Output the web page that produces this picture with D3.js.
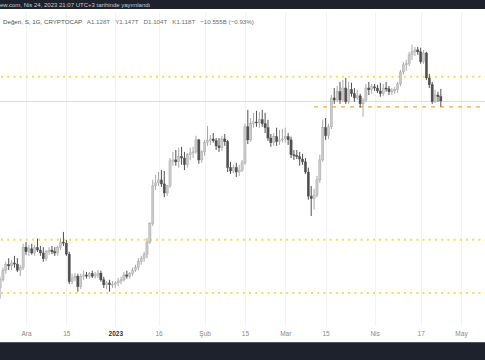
<!DOCTYPE html>
<html>
<head>
<meta charset="utf-8">
<script src="https://cdn.jsdelivr.net/npm/d3@7"></script>
<style>
  body { margin: 0; background: #fff; }
  svg { display: block; font-family: "Liberation Sans", Arial, sans-serif; }
</style>
</head>
<body>
<svg id="chart"></svg>
<script>
// daily candles, 22 Nov 2022 .. 24 Apr 2023, values in trillion USD
let firstDay = new Date(Date.UTC(2022, 10, 22));
let lastDay = new Date(Date.UTC(2023, 3, 25));

let opens = [
  0.751, 0.764, 0.780, 0.789, 0.787, 0.792, 0.790, 0.780, 0.784,
  0.819, 0.811, 0.816, 0.809, 0.818, 0.814, 0.809, 0.799, 0.811, 0.814, 0.811, 0.809, 0.818, 0.828, 0.826,
  0.807, 0.761, 0.767, 0.770, 0.753, 0.770, 0.772, 0.770, 0.774, 0.770, 0.772, 0.775, 0.764, 0.756, 0.759, 0.756,
  0.757, 0.759, 0.762, 0.764, 0.772, 0.770, 0.774, 0.780, 0.784, 0.794, 0.800, 0.806, 0.828, 0.861, 0.933,
  0.939, 0.945, 0.937, 0.919, 0.933, 0.984, 0.986, 0.982, 0.993, 0.990, 0.976, 0.997, 1.001, 1.003, 1.029, 0.986,
  1.003, 1.023, 1.027, 1.031, 1.027, 1.016, 1.012, 1.031, 1.025, 0.970, 0.963, 0.970, 0.961, 0.965, 0.980,
  1.058, 1.029, 1.065, 1.069, 1.067, 1.074, 1.065, 1.056, 1.033, 1.023, 1.036, 1.025, 1.029,
  1.031, 1.036, 1.029, 0.997, 0.995, 0.993, 0.988, 0.982, 0.961, 0.913, 0.908, 0.915, 0.945, 0.986, 1.056, 1.038,
  1.058, 1.125, 1.120, 1.140, 1.120, 1.149, 1.116, 1.145, 1.135, 1.125, 1.130, 1.111, 1.120, 1.149, 1.145,
  1.152, 1.149, 1.142, 1.135, 1.149, 1.147, 1.140, 1.142, 1.145, 1.159, 1.189, 1.207, 1.210, 1.233, 1.241, 1.246,
  1.241, 1.215, 1.238, 1.174, 1.157, 1.116, 1.132, 1.128
];
let highs = [
  0.769, 0.784, 0.794, 0.800, 0.797, 0.804, 0.800, 0.789, 0.825,
  0.828, 0.823, 0.825, 0.823, 0.834, 0.821, 0.819, 0.814, 0.819, 0.821, 0.819, 0.821, 0.835, 0.846, 0.832,
  0.811, 0.774, 0.775, 0.774, 0.774, 0.779, 0.777, 0.777, 0.779, 0.777, 0.780, 0.779, 0.769, 0.762, 0.764, 0.762,
  0.762, 0.767, 0.769, 0.777, 0.779, 0.777, 0.784, 0.789, 0.800, 0.804, 0.811, 0.835, 0.864, 0.945, 0.955,
  0.961, 0.965, 0.963, 0.935, 0.990, 1.003, 1.007, 1.012, 1.014, 1.003, 1.001, 1.012, 1.014, 1.038, 1.031, 1.007,
  1.029, 1.060, 1.040, 1.044, 1.033, 1.033, 1.038, 1.042, 1.029, 0.982, 0.976, 0.980, 0.976, 0.986, 1.065,
  1.097, 1.078, 1.090, 1.095, 1.092, 1.097, 1.090, 1.074, 1.042, 1.044, 1.056, 1.051, 1.053,
  1.056, 1.044, 1.036, 1.007, 1.007, 1.003, 0.999, 0.990, 0.970, 0.933, 0.927, 0.953, 0.997, 1.074, 1.078, 1.065,
  1.132, 1.149, 1.154, 1.164, 1.169, 1.174, 1.164, 1.162, 1.149, 1.145, 1.135, 1.125, 1.159, 1.164, 1.159,
  1.159, 1.157, 1.162, 1.159, 1.164, 1.154, 1.149, 1.152, 1.164, 1.194, 1.215, 1.220, 1.241, 1.260, 1.254, 1.254,
  1.252, 1.246, 1.241, 1.184, 1.164, 1.145, 1.140, 1.147
];
let lows = [
  0.734, 0.761, 0.774, 0.780, 0.780, 0.784, 0.777, 0.770, 0.780,
  0.806, 0.804, 0.806, 0.804, 0.811, 0.804, 0.794, 0.795, 0.806, 0.807, 0.804, 0.804, 0.814, 0.821, 0.804,
  0.757, 0.757, 0.762, 0.745, 0.749, 0.764, 0.766, 0.766, 0.767, 0.766, 0.767, 0.761, 0.751, 0.749, 0.745, 0.751,
  0.751, 0.754, 0.757, 0.761, 0.766, 0.766, 0.770, 0.777, 0.780, 0.789, 0.794, 0.800, 0.825, 0.857, 0.925,
  0.933, 0.931, 0.911, 0.913, 0.929, 0.974, 0.974, 0.970, 0.976, 0.965, 0.970, 0.986, 0.990, 0.999, 0.978, 0.980,
  0.995, 1.016, 1.018, 1.023, 1.007, 1.003, 1.005, 1.016, 0.961, 0.957, 0.959, 0.951, 0.953, 0.961, 0.976,
  1.020, 1.025, 1.056, 1.058, 1.056, 1.058, 1.044, 1.027, 1.014, 1.016, 1.016, 1.018, 1.023,
  1.023, 1.018, 0.990, 0.986, 0.988, 0.974, 0.976, 0.957, 0.906, 0.875, 0.887, 0.911, 0.939, 0.982, 1.029, 1.031,
  1.053, 1.111, 1.116, 1.111, 1.116, 1.111, 1.111, 1.128, 1.116, 1.120, 1.102, 1.081, 1.116, 1.132, 1.135,
  1.142, 1.137, 1.128, 1.130, 1.140, 1.132, 1.132, 1.135, 1.137, 1.154, 1.182, 1.192, 1.204, 1.220, 1.230, 1.233,
  1.210, 1.210, 1.169, 1.149, 1.111, 1.113, 1.116, 1.104
];
let closes = [
  0.764, 0.780, 0.789, 0.787, 0.792, 0.790, 0.780, 0.784, 0.819,
  0.811, 0.816, 0.809, 0.818, 0.814, 0.809, 0.799, 0.811, 0.814, 0.811, 0.809, 0.818, 0.828, 0.826, 0.807,
  0.761, 0.767, 0.770, 0.753, 0.770, 0.772, 0.770, 0.774, 0.770, 0.772, 0.775, 0.764, 0.756, 0.759, 0.756, 0.757,
  0.759, 0.762, 0.764, 0.772, 0.770, 0.774, 0.780, 0.784, 0.794, 0.800, 0.806, 0.828, 0.861, 0.933, 0.939,
  0.945, 0.937, 0.919, 0.933, 0.984, 0.986, 0.982, 0.993, 0.990, 0.976, 0.997, 1.001, 1.003, 1.029, 0.986, 1.003,
  1.023, 1.027, 1.031, 1.027, 1.016, 1.012, 1.031, 1.025, 0.970, 0.963, 0.970, 0.961, 0.965, 0.980, 1.058,
  1.029, 1.065, 1.069, 1.067, 1.074, 1.065, 1.056, 1.033, 1.023, 1.036, 1.025, 1.029, 1.031,
  1.036, 1.029, 0.997, 0.995, 0.993, 0.988, 0.982, 0.961, 0.913, 0.908, 0.915, 0.945, 0.986, 1.056, 1.038, 1.058,
  1.125, 1.120, 1.140, 1.120, 1.149, 1.116, 1.145, 1.135, 1.125, 1.130, 1.111, 1.120, 1.149, 1.145, 1.152,
  1.149, 1.142, 1.135, 1.149, 1.147, 1.140, 1.142, 1.145, 1.159, 1.189, 1.207, 1.210, 1.233, 1.241, 1.246, 1.241,
  1.215, 1.238, 1.174, 1.157, 1.116, 1.132, 1.128, 1.118
];

// horizontal levels drawn on the chart
let dottedLevels = [1.177, 0.832, 0.743];
let dashedLevel = 1.104;
let dashedFrom = new Date(Date.UTC(2023, 2, 11));
let lastClose = 1.118;

let tickDates = ["2022-12-01", "2022-12-15", "2023-01-01", "2023-01-16", "2023-02-01", "2023-02-15",
  "2023-03-01", "2023-03-15", "2023-04-01", "2023-04-17", "2023-05-01"];
let tickLabels = ["Ara", "15", "2023", "16", "Şub", "15", "Mar", "15", "Nis", "17", "May"];

let headerText = "ew.com, Nis 24, 2023 21:07 UTC+3 tarihinde yayımlandı";
let legendName = "Değeri, S, 1G, CRYPTOCAP";
let legendValues = ["A1.128T", "Y1.147T", "D1.104T", "K1.118T", "−10.555B (−0.93%)"];

let width = 485;
let height = 360;

let days = d3.utcDay.range(firstDay, lastDay);
let candles = days.map(function(d, i) {
  return { date: d, open: opens[i], high: highs[i], low: lows[i], close: closes[i] };
});

let svg = d3.select("#chart")
  .attr("width", width)
  .attr("height", height);

let x = d3.scaleUtc()
  .domain([new Date(Date.UTC(2022, 11, 1)), new Date(Date.UTC(2023, 4, 1))])
  .range([26, 461]);
let y = d3.scaleLog()
  .domain([0.694, 1.300])
  .range([325, 30]);

let parse = d3.utcParse("%Y-%m-%d");
let ticks = tickDates.map(parse);

// faint vertical grid
svg.append("g")
  .selectAll("line")
  .data(ticks)
  .enter().append("line")
  .attr("x1", function(d) { return Math.round(x(d)) + 0.5; })
  .attr("x2", function(d) { return Math.round(x(d)) + 0.5; })
  .attr("y1", 12)
  .attr("y2", 326)
  .attr("stroke", "#f3f3f5");

// last price line
svg.append("line")
  .attr("x1", 0).attr("x2", width)
  .attr("y1", Math.round(y(lastClose)) + 0.5)
  .attr("y2", Math.round(y(lastClose)) + 0.5)
  .attr("stroke", "#dcdcdc");

svg.append("g")
  .selectAll("line")
  .data(dottedLevels)
  .enter().append("line")
  .attr("x1", 1).attr("x2", width)
  .attr("y1", function(d) { return y(d); })
  .attr("y2", function(d) { return y(d); })
  .attr("stroke", "#f4dc5c")
  .attr("stroke-width", 2)
  .attr("stroke-dasharray", "2,4.2");

svg.append("line")
  .attr("x1", x(dashedFrom)).attr("x2", width)
  .attr("y1", y(dashedLevel))
  .attr("y2", y(dashedLevel))
  .attr("stroke", "#f2a73b")
  .attr("stroke-width", 1.3)
  .attr("stroke-dasharray", "4,5");

// candles
let up = function(d) { return d.close >= d.open; };

svg.append("g")
  .selectAll("line")
  .data(candles)
  .enter().append("line")
  .attr("x1", function(d) { return x(d.date); })
  .attr("x2", function(d) { return x(d.date); })
  .attr("y1", function(d) { return y(d.high); })
  .attr("y2", function(d) { return y(d.low); })
  .attr("stroke", function(d) { return up(d) ? "#a9a9a9" : "#505050"; })
  .attr("stroke-width", 1);

svg.append("g")
  .selectAll("rect")
  .data(candles)
  .enter().append("rect")
  .attr("x", function(d) { return x(d.date) - 1.1; })
  .attr("width", 2.2)
  .attr("y", function(d) { return y(Math.max(d.open, d.close)); })
  .attr("height", function(d) { return Math.max(1, Math.abs(y(d.open) - y(d.close))); })
  .attr("fill", function(d) { return up(d) ? "#c9c9c9" : "#4e4e4e"; })
  .attr("stroke", function(d) { return up(d) ? "#a3a3a3" : "#4e4e4e"; })
  .attr("stroke-width", 0.4);

// time axis
let axis = svg.append("g")
  .attr("transform", "translate(0,331)")
  .call(d3.axisBottom(x)
    .tickValues(ticks)
    .tickSize(0)
    .tickPadding(0)
    .tickFormat(function(d, i) { return tickLabels[i]; }));
axis.select(".domain").remove();
axis.selectAll("text")
  .attr("dy", "0.71em")
  .attr("font-size", 6.5)
  .attr("font-family", "Liberation Sans, Arial, sans-serif")
  .attr("fill", function(d, i) { return tickLabels[i] === "2023" ? "#333" : "#888"; })
  .attr("font-weight", function(d, i) { return tickLabels[i] === "2023" ? "bold" : "normal"; });

// dark bars top and bottom
svg.append("rect")
  .attr("x", 0).attr("y", 0)
  .attr("width", width).attr("height", 9)
  .attr("fill", "#1e222d");
svg.append("text")
  .attr("x", 0).attr("y", 6.6)
  .attr("font-size", 6)
  .attr("fill", "#c9ccd4")
  .text(headerText);

svg.append("rect")
  .attr("x", 0).attr("y", 342)
  .attr("width", width).attr("height", 18)
  .attr("fill", "#1e222d");
svg.append("line")
  .attr("x1", 0).attr("x2", width)
  .attr("y1", 342.5).attr("y2", 342.5)
  .attr("stroke", "#50535e");

// legend line
let legend = svg.append("text")
  .attr("x", 3).attr("y", 24)
  .attr("font-size", 6.2)
  .attr("fill", "#505050")
  .text(legendName);
legendValues.forEach(function(v) {
  legend.append("tspan")
    .attr("dx", 5)
    .attr("fill", "#6e6e6e")
    .text(v);
});
</script>
</body>
</html>
